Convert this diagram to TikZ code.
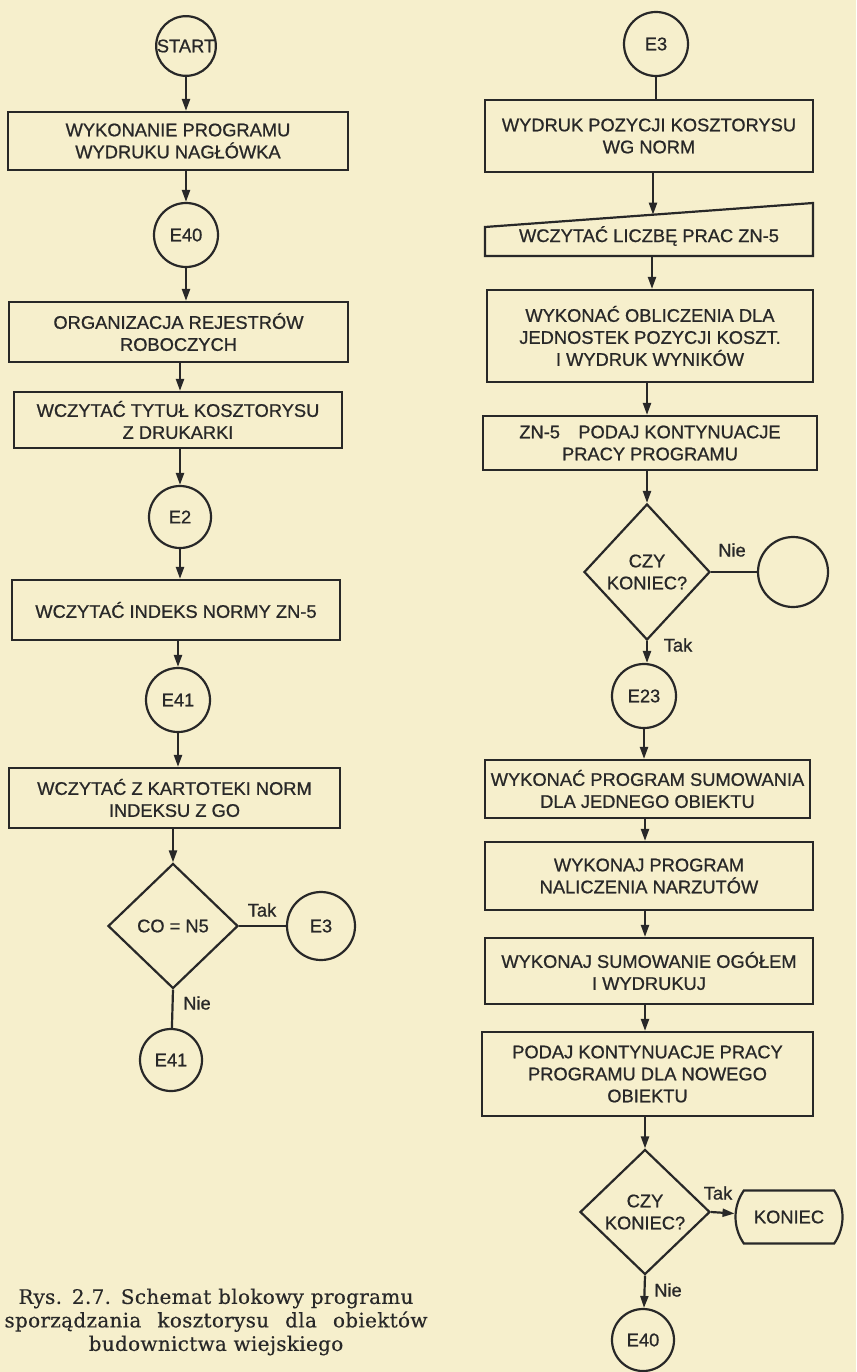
\documentclass[tikz,border=0pt]{standalone}
\usepackage{fontspec}
\setmainfont{Liberation Sans}[FakeBold=0.8]
\newfontfamily\capfont[LetterSpace=1.5,FakeBold=0.4]{DejaVu Serif}
\usetikzlibrary{arrows.meta,shapes.geometric,shapes.misc}
\definecolor{paper}{RGB}{246,239,204}
\definecolor{ink}{RGB}{40,40,40}
\begin{document}
\begin{tikzpicture}[x=1pt,y=-1pt,
  every node/.style={font=\fontsize{18.3}{22}\selectfont, text=ink},
  box/.style={draw=ink, line width=2.2pt, rectangle, align=center, inner sep=0pt},
  conn/.style={draw=ink, line width=2.2pt, circle, inner sep=0pt},
  dec/.style={draw=ink, line width=2.2pt, diamond, inner sep=0pt, align=center},
  term/.style={draw=ink, line width=2.2pt, rounded rectangle, rounded rectangle arc length=70, inner sep=0pt},
  arr/.style={draw=ink, line width=2.2pt, -{Triangle[length=12pt,width=8pt]}},
  ln/.style={draw=ink, line width=2.2pt},
  lab/.style={inner sep=0pt}]
\useasboundingbox (0,0) rectangle (856,1372);
\fill[paper] (0,0) rectangle (856,1372);

% ---------- left column ----------
\node[conn, minimum size=52pt] (start) at (186,46) {START};
\node[box, minimum width=340pt, minimum height=58pt] (b1) at (178,141) {WYKONANIE PROGRAMU\\WYDRUKU NAGŁÓWKA};
\node[conn, minimum size=64pt] (e40) at (186,235) {E40};
\node[box, minimum width=339pt, minimum height=60pt] (b2) at (178.5,332) {ORGANIZACJA REJESTRÓW\\ROBOCZYCH};
\node[box, minimum width=328pt, minimum height=56pt] (b3) at (178,420) {WCZYTAĆ TYTUŁ KOSZTORYSU\\Z DRUKARKI};
\node[conn, minimum size=62pt] (e2) at (180,517) {E2};
\node[box, minimum width=328pt, minimum height=60pt] (b4) at (176,610) {WCZYTAĆ INDEKS NORMY ZN-5};
\node[conn, minimum size=64pt] (e41) at (178,700) {E41};
\node[box, minimum width=331pt, minimum height=60pt] (b5) at (174.5,798) {WCZYTAĆ Z KARTOTEKI NORM\\INDEKSU Z GO};
\node[dec, minimum width=130pt, minimum height=125pt] (d1) at (173,926) {CO = N5};
\node[conn, minimum size=68pt] (e3a) at (321,926) {E3};
\node[conn, minimum size=62pt] (e41b) at (171,1060) {E41};
\node[lab] (tak1) at (262,910) {Tak};
\node[lab] (nie1) at (197,1003) {Nie};

\draw[arr] (start) -- (start |- b1.north);
\draw[arr] (e40 |- b1.south) -- (e40);
\draw[arr] (e40) -- (e40 |- b2.north);
\draw[arr] (e2 |- b2.south) -- (e2 |- b3.north);
\draw[arr] (e2 |- b3.south) -- (e2);
\draw[arr] (e2) -- (e2 |- b4.north);
\draw[arr] (e41 |- b4.south) -- (e41);
\draw[arr] (e41) -- (e41 |- b5.north);
\draw[arr] (d1 |- b5.south) -- (d1.north);
\draw[ln] (d1.east) -- (e3a);
\draw[ln] (d1.south) -- (e41b);

% ---------- right column ----------
\node[conn, minimum size=64pt] (e3b) at (656,44) {E3};
\node[box, minimum width=328pt, minimum height=72pt] (r1) at (649,136) {WYDRUK POZYCJI KOSZTORYSU\\WG NORM};
\coordinate (r2tl) at (485,227);
\coordinate (r2tr) at (813,203);
\coordinate (r2br) at (813,256);
\coordinate (r2bl) at (485,256);
\draw[ln, line join=miter] (r2tl) -- (r2tr) -- (r2br) -- (r2bl) -- cycle;
\node[lab] (r2) at (649,236) {WCZYTAĆ LICZBĘ PRAC ZN-5};
\coordinate (r2top) at (653,214.7);
\coordinate (r2bot) at (652,256);
\node[box, minimum width=326pt, minimum height=92pt] (r3) at (650,336) {WYKONAĆ OBLICZENIA DLA\\JEDNOSTEK POZYCJI KOSZT.\\I WYDRUK WYNIKÓW};
\node[box, minimum width=334pt, minimum height=54pt] (r4) at (650,443) {ZN-5\quad PODAJ KONTYNUACJE\\PRACY PROGRAMU};
\node[dec, minimum width=126pt, minimum height=136pt] (d2) at (647,572) {CZY\\KONIEC?};
\node[conn, minimum size=70pt] (nc) at (793,572) {};
\node[conn, minimum size=64pt] (e23) at (644,696) {E23};
\node[box, minimum width=325pt, minimum height=58pt] (r5) at (647.5,789) {WYKONAĆ PROGRAM SUMOWANIA\\DLA JEDNEGO OBIEKTU};
\node[box, minimum width=328pt, minimum height=68pt] (r6) at (649,876) {WYKONAJ PROGRAM\\NALICZENIA NARZUTÓW};
\node[box, minimum width=328pt, minimum height=66pt] (r7) at (649,971) {WYKONAJ SUMOWANIE OGÓŁEM\\I WYDRUKUJ};
\node[box, minimum width=331pt, minimum height=84pt] (r8) at (647.5,1074) {PODAJ KONTYNUACJE PRACY\\PROGRAMU DLA NOWEGO\\OBIEKTU};
\node[dec, minimum width=130pt, minimum height=125pt] (d3) at (645,1212) {CZY\\KONIEC?};
\node[term, minimum width=107pt, minimum height=53pt] (koniec) at (789,1217) {KONIEC};
\node[conn, minimum size=62pt] (e40b) at (643,1340) {E40};
\node[lab] (nie2) at (732,550) {Nie};
\node[lab] (tak2) at (678,645) {Tak};
\node[lab] (tak3) at (718,1193) {Tak};
\node[lab] (nie3) at (668,1290) {Nie};

\draw[ln] (e3b) -- (e3b |- r1.north);
\draw[arr] (r2top |- r1.south) -- (r2top);
\draw[arr] (r2bot) -- (r2bot |- r3.north);
\draw[arr] (d2 |- r3.south) -- (d2 |- r4.north);
\draw[arr] (d2 |- r4.south) -- (d2.north);
\draw[ln] (d2.east) -- (nc);
\draw[arr] (d2.south) -- (d2.south |- e23.north);
\draw[arr] (e23) -- (e23 |- r5.north);
\draw[arr] (d3 |- r5.south) -- (d3 |- r6.north);
\draw[arr] (d3 |- r6.south) -- (d3 |- r7.north);
\draw[arr] (d3 |- r7.south) -- (d3 |- r8.north);
\draw[arr] (d3 |- r8.south) -- (d3.north);
\draw[arr] (d3.east) -- (koniec);
\draw[arr] (d3.south) -- (e40b);

% ---------- caption ----------
\node[font=\capfont\fontsize{20}{23.5}\selectfont, align=center, inner sep=0pt] (cap) at (216,1322)
  {\makebox[395pt][s]{Rys. 2.7. Schemat blokowy programu}\\
   \makebox[423pt][s]{sporządzania kosztorysu dla obiektów}\\
   budownictwa wiejskiego};
\end{tikzpicture}
\end{document}
